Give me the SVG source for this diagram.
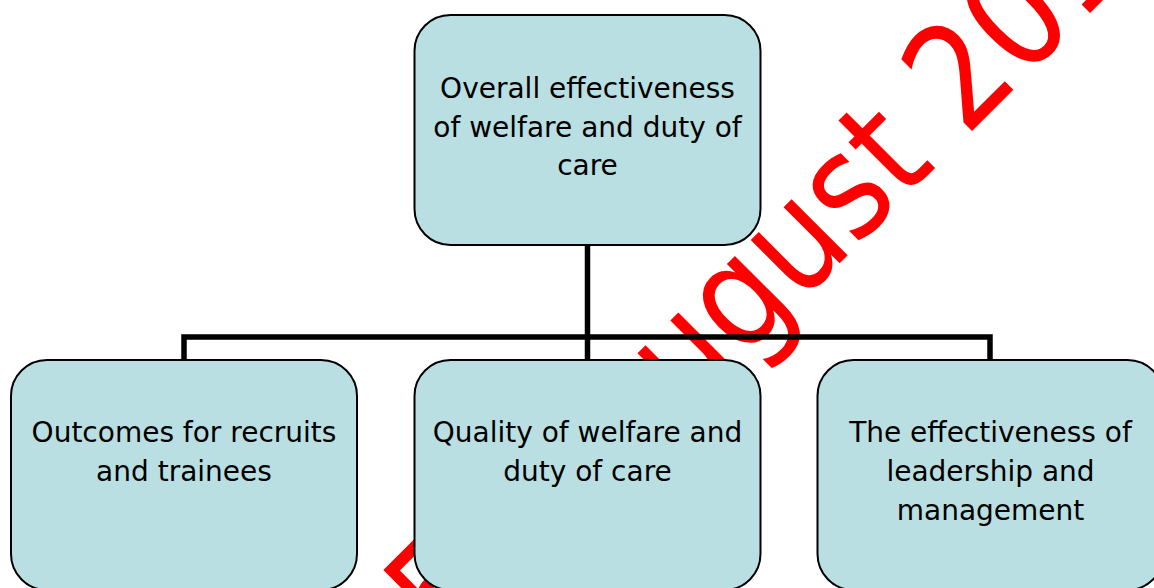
<svg xmlns="http://www.w3.org/2000/svg" width="1154" height="588" viewBox="0 0 1154 588">
  <style>
    .box { fill: #B9DFE2; stroke: #000000; stroke-width: 2; }
    .lbl { font-family: "DejaVu Sans", Verdana, sans-serif; font-size: 28px; fill: #000000; text-anchor: middle; }
    .conn { stroke: #000000; stroke-width: 5.5; fill: none; stroke-linecap: square; }
    .wm { font-family: "DejaVu Sans", Tahoma, sans-serif; font-size: 145px; fill: #FF0000; }
  </style>
  <rect width="1154" height="588" fill="#FFFFFF"/>
  <g id="watermark" transform="translate(391.7,711.3) rotate(-45) scale(0.87,1)">
    <text class="wm" x="0" y="0">25th August 2011</text>
  </g>
  <g id="connectors">
    <path class="conn" d="M587.5 246 V337"/>
    <path class="conn" d="M184 359 V337 H990 V359"/>
    <path class="conn" d="M587.5 337 V359"/>
  </g>
  <g id="node-top">
    <rect class="box" x="414.5" y="15" width="346" height="230" rx="36" ry="36"/>
    <text class="lbl" x="587.5" y="98">Overall effectiveness</text>
    <text class="lbl" x="587.5" y="136.5">of welfare and duty of</text>
    <text class="lbl" x="587.5" y="175">care</text>
  </g>
  <g id="node-outcomes">
    <rect class="box" x="11" y="360" width="346" height="230" rx="36" ry="36"/>
    <text class="lbl" x="184" y="441.5">Outcomes for recruits</text>
    <text class="lbl" x="184" y="481">and trainees</text>
  </g>
  <g id="node-quality">
    <rect class="box" x="414.5" y="360" width="346" height="230" rx="36" ry="36"/>
    <text class="lbl" x="587.5" y="441.5">Quality of welfare and</text>
    <text class="lbl" x="587.5" y="481">duty of care</text>
  </g>
  <g id="node-leadership">
    <rect class="box" x="817.5" y="360" width="346" height="230" rx="36" ry="36"/>
    <text class="lbl" x="990.5" y="441.5">The effectiveness of</text>
    <text class="lbl" x="990.5" y="481">leadership and</text>
    <text class="lbl" x="990.5" y="520">management</text>
  </g>
</svg>
